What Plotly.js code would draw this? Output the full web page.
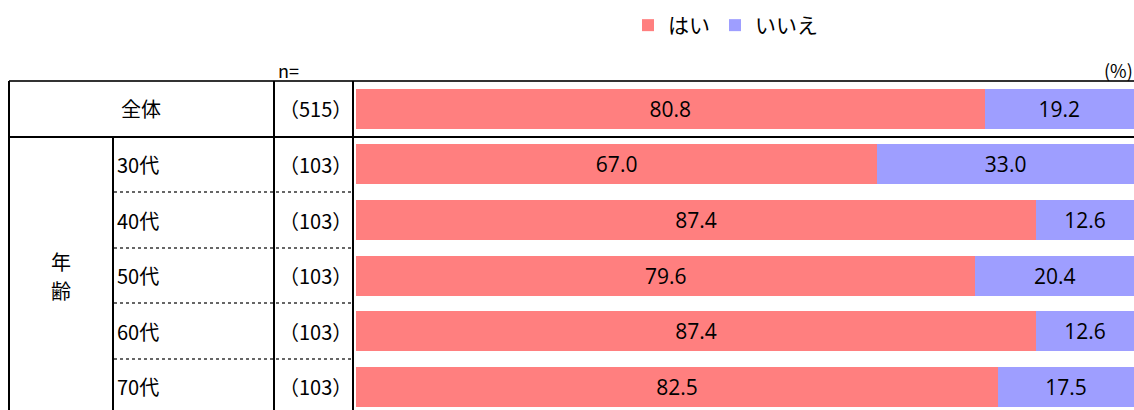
<!DOCTYPE html>
<html>
<head>
<meta charset="utf-8">
<script src="https://cdn.plot.ly/plotly-3.0.1.min.js"></script>
<style>
  html, body { margin: 0; padding: 0; background: #fff; }
  #chart { width: 1134px; height: 410px; }
</style>
</head>
<body>
<div id="chart"></div>
<script>
// ---- data ----
const categories = ["全体", "30代", "40代", "50代", "60代", "70代"];
const nValues = [515, 103, 103, 103, 103, 103];
const yesValues = [80.8, 67.0, 87.4, 79.6, 87.4, 82.5];
const noValues = [19.2, 33.0, 12.6, 20.4, 12.6, 17.5];
const seriesNames = ["はい", "いいえ"];
const groupLabelChars = ["年", "齢"];

// ---- geometry helpers (pixels -> paper) ----
const W = 1134, H = 410, TOP = 81, BOTTOM = 0;
const plotH = H - TOP - BOTTOM;
const px = x => x / W;
const py = y => (H - BOTTOM - y) / plotH;

const JP = '"Noto Sans CJK JP", "Noto Sans", sans-serif';
const NUM = '"Open Sans", "Noto Sans", sans-serif';

const traces = [
  {
    type: 'bar', orientation: 'h', name: seriesNames[0],
    y: categories, x: yesValues,
    marker: { color: '#FF7F7F', line: { width: 0 } },
    width: 0.72,
    texttemplate: '%{x:.1f}', textposition: 'inside', insidetextanchor: 'middle',
    textfont: { family: NUM, size: 21, color: '#000' },
    constraintext: 'none',
    hoverinfo: 'skip'
  },
  {
    type: 'bar', orientation: 'h', name: seriesNames[1],
    y: categories, x: noValues,
    marker: { color: '#9E9EFF', line: { width: 0 } },
    width: 0.72,
    texttemplate: '%{x:.1f}', textposition: 'inside', insidetextanchor: 'middle',
    textfont: { family: NUM, size: 21, color: '#000' },
    constraintext: 'none',
    hoverinfo: 'skip'
  }
];

// ---- table lines ----
const LINE = { color: '#000', width: 2 };
const DOT = { color: '#666', width: 2, dash: 'dot' };
const shapes = [];
function hline(x0, x1, y, line) {
  shapes.push({ type: 'line', xref: 'paper', yref: 'paper', x0: px(x0), x1: px(x1), y0: py(y), y1: py(y), line });
}
function vline(x, y0, y1, line) {
  shapes.push({ type: 'line', xref: 'paper', yref: 'paper', x0: px(x), x1: px(x), y0: py(y0), y1: py(y1), line });
}
hline(9, 1134, 81, { color: '#333', width: 2 });
hline(9, 1134, 137, LINE);
[192, 248, 303, 359].forEach(y => hline(114, 353, y, DOT));
vline(9, 81, 412, LINE);
vline(113, 137, 412, LINE);
vline(274, 81, 412, LINE);
vline(353, 81, 412, LINE);

// ---- text annotations ----
const annotations = [];
categories.forEach((c, i) => {
  if (i === 0) {
    annotations.push({ xref: 'paper', yref: 'y', x: px(141), y: c, text: c, showarrow: false,
      xanchor: 'center', yanchor: 'middle', font: { family: JP, size: 20, color: '#000' } });
  } else {
    annotations.push({ xref: 'paper', yref: 'y', x: px(115), y: c, text: c, showarrow: false,
      xanchor: 'left', yanchor: 'middle', font: { family: JP, size: 20, color: '#000' } });
  }
  annotations.push({ xref: 'paper', yref: 'y', x: px(354), y: c, text: '（' + nValues[i] + '）', showarrow: false,
    xanchor: 'right', yanchor: 'middle', font: { family: JP, size: 20, color: '#000' } });
});
groupLabelChars.forEach((ch, k) => {
  annotations.push({ xref: 'paper', yref: 'paper', x: px(61), y: py(261 + k * 29), text: ch, showarrow: false,
    xanchor: 'center', yanchor: 'middle', borderpad: 0, font: { family: JP, size: 20, color: '#000' } });
});
annotations.push({ xref: 'paper', yref: 'paper', x: px(276), y: py(70), text: 'n=', showarrow: false,
  xanchor: 'left', yanchor: 'middle', font: { family: JP, size: 18, color: '#000' } });
annotations.push({ xref: 'paper', yref: 'paper', x: px(1134), y: py(70), text: '(%)', showarrow: false,
  xanchor: 'right', yanchor: 'middle', borderpad: 0, font: { family: JP, size: 18, color: '#000' } });

const layout = {
  width: W, height: H,
  margin: { l: 0, r: 0, t: TOP, b: BOTTOM, pad: 0 },
  paper_bgcolor: '#fff', plot_bgcolor: '#fff',
  barmode: 'stack',
  bargap: 0.28,
  showlegend: true,
  legend: {
    orientation: 'h', x: px(628), xanchor: 'left', y: py(5), yanchor: 'top',
    font: { family: JP, size: 21, color: '#000' },
    bgcolor: 'rgba(0,0,0,0)', traceorder: 'normal', itemclick: false
  },
  xaxis: { domain: [px(356), 1], range: [0, 100], visible: false, fixedrange: true },
  yaxis: { type: 'category', range: [-0.5 + plotH / 55.6, -0.5], visible: false, fixedrange: true },
  shapes, annotations,
  hovermode: false
};

Plotly.newPlot('chart', traces, layout, { displayModeBar: false, staticPlot: true });
</script>
</body>
</html>
